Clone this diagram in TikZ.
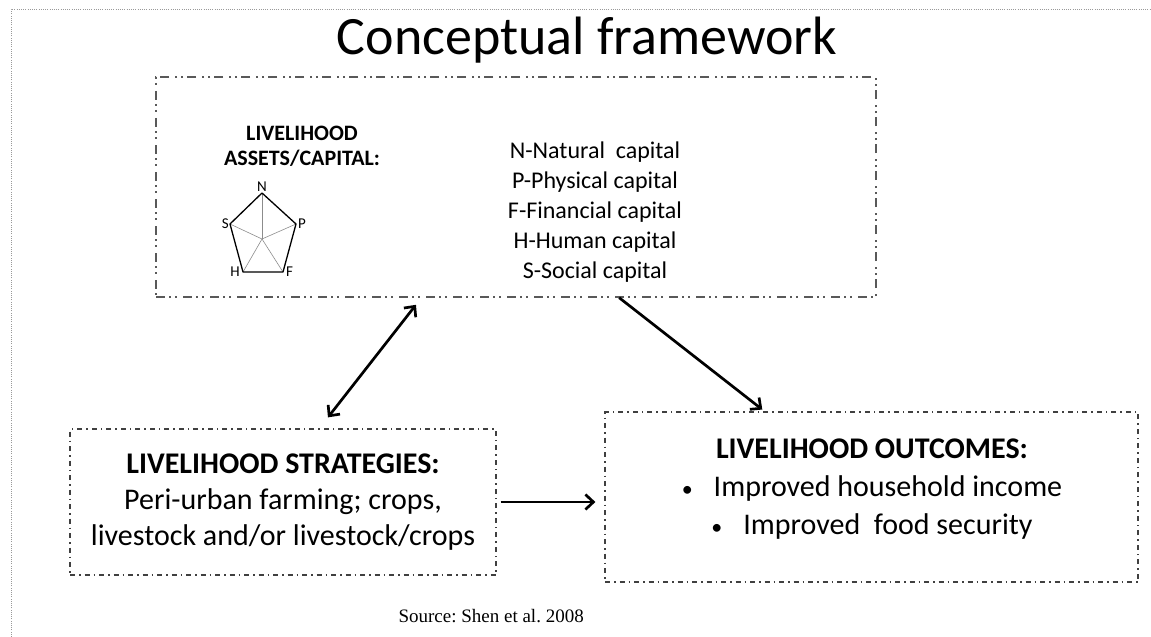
\documentclass[tikz,border=0pt]{standalone}
\usepackage{fontspec}
\setmainfont{Carlito}
\newfontfamily\sourcefont{Liberation Serif}
\usetikzlibrary{arrows.meta,calc,positioning}

\newcommand{\smallbullet}{{\fontsize{22}{22}\selectfont\textbullet}}

\begin{document}
\begin{tikzpicture}
        [
            x=1pt, y=-1pt,
            line/.style = {
                draw,
                line width=2.7pt,
                -{Straight Barb[length=8pt,width=15pt]}
            },
            biline/.style = {
                line,
                {Straight Barb[length=8pt,width=15pt]}-{Straight Barb[length=8pt,width=15pt]}
            },
            assetbox/.style = {
                rectangle,
                draw=black!65,
                line width=1.4pt,
                dash pattern=on 9pt off 4pt on 2pt off 4pt on 2pt off 6pt,
                minimum width=720pt,
                minimum height=220pt
            },
            block/.style = {
                rectangle,
                draw=black!75,
                line width=1.2pt,
                dash pattern=on 5pt off 4pt on 1.5pt off 4pt,
                align=center,
                inner sep=0pt
            },
            frame/.style = {
                draw=black!40,
                line width=0.9pt,
                dash pattern=on 1pt off 1.2pt
            },
            corner/.style = {
                font=\fontsize{15}{17}\selectfont,
                inner sep=1pt
            }
        ]

        \useasboundingbox (0,0) rectangle (1151,637);
        \path[frame] (11,637) -- (11,9) -- (1151,9);

        \node[font=\fontsize{54}{60}\selectfont,anchor=base] (title) at (587,54) {Conceptual framework};

        % assets box
        \node[assetbox] (assets) at (516,187) {};
        \node[font=\bfseries\fontsize{22}{25}\selectfont,align=center] (assetlabel) at (302,146) {LIVELIHOOD\\ASSETS/CAPITAL:};
        \node[font=\fontsize{24}{30}\selectfont,align=center] (capitals) at (595,212) {N-Natural\ \ capital\\P-Physical capital\\F-Financial capital\\H-Human capital\\S-Social capital};

        % pentagon
        \coordinate (pc) at (262,239);
        \coordinate (pn) at (262,193);
        \coordinate (pp) at (296,224);
        \coordinate (pf) at (283,272);
        \coordinate (ph) at (243,272);
        \coordinate (ps) at (230,224);
        \foreach \v in {pn,pp,pf,ph,ps}
            \draw[black!45,line width=0.6pt] (pc) -- (\v);
        \draw[line width=1.3pt,line join=round] (pn) -- (pp) -- (pf) -- (ph) -- (ps) -- cycle;
        \node[corner,above=0pt of pn] (lbn) {N};
        \node[corner,right=1pt of pp] (lbp) {P};
        \node[corner,below right=-6pt and 2pt of pf] (lbf) {F};
        \node[corner,below left=-6pt and 2pt of ph] (lbh) {H};
        \node[corner,left=0pt of ps] (lbs) {S};

        % lower boxes
        \node[block,font=\fontsize{30}{36}\selectfont,minimum width=426pt,minimum height=146pt] (strategies) at (283,502)
            {\textbf{LIVELIHOOD STRATEGIES:}\\Peri-urban farming; crops,\\livestock and/or livestock/crops};
        \node[block,minimum width=533pt,minimum height=170pt] (outcomes) at (871.5,497) {};
        \node[font=\fontsize{30}{38}\selectfont,align=center] (outtext) at (872,489)
            {\textbf{LIVELIHOOD OUTCOMES:}\\\smallbullet\hspace{21pt}Improved household income\\\smallbullet\hspace{21pt}Improved\ \ food security};

        \node[font=\sourcefont\frenchspacing\fontsize{19}{22}\selectfont,anchor=base west] (source) at (395,622) {Source: Shen et al. 2008};

        \path[biline,shorten <=14pt,shorten >=9pt] ($(strategies.north west)!0.585!(strategies.north east)$) -- ($(assets.south west)!0.369!(assets.south east)$);
        \path[line,shorten >=3pt] ($(assets.south west)!0.643!(assets.south east)$) -- ($(outcomes.north west)!0.3!(outcomes.north east)$);
        \path[line,shorten <=4pt,shorten >=9pt] (strategies.east) -- (strategies.east -| outcomes.west);
\end{tikzpicture}
\end{document}
